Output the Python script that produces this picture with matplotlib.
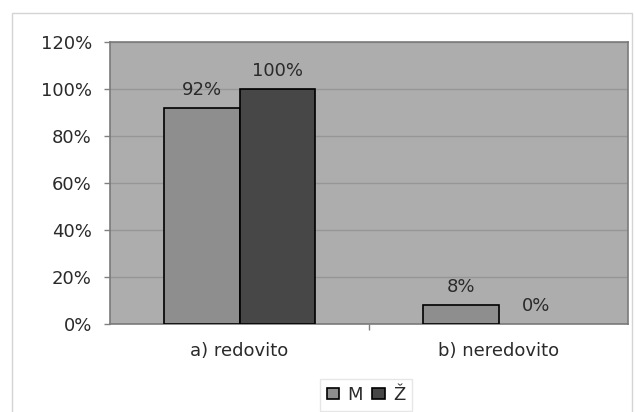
import numpy as np
import matplotlib.pyplot as plt
from matplotlib.patches import Rectangle
from matplotlib.ticker import FixedLocator

categories = ["a) redovito", "b) neredovito"]
series_names = ["M", "Ž"]
values_m = [92, 8]
values_z = [100, 0]
yticks = [0, 20, 40, 60, 80, 100, 120]

plt.rcParams["font.family"] = ["DejaVu Sans"]
FS = 13

fig = plt.figure(figsize=(6.35, 4.12), dpi=100)
fig.patch.set_facecolor("white")

# light outer frame around the whole chart
fig.patches.append(Rectangle((12 / 635, -0.05), 0.995 - 12 / 635, 1 - 13 / 412 + 0.05,
                             transform=fig.transFigure, fill=False,
                             edgecolor="#d4d4d4", linewidth=1.0))

ax = fig.add_axes([110 / 635, 1 - 324 / 412, 518 / 635, 282 / 412])
ax.set_facecolor("#adadad")

x = np.arange(len(categories))
w = 0.29
bars_m = ax.bar(x - w / 2, values_m, w, color="#8e8e8e", edgecolor="black",
                linewidth=1.2, label=series_names[0], zorder=3)
bars_z = ax.bar(x + w / 2, values_z, w, color="#474747", edgecolor="black",
                linewidth=1.2, label=series_names[1], zorder=3)

for bars, vals in ((bars_m, values_m), (bars_z, values_z)):
    for b, v in zip(bars, vals):
        if v == 0:
            # an empty bar leaves no outline on the axis
            b.set_linewidth(0)
        ax.annotate(f"{v}%", (b.get_x() + b.get_width() / 2, v),
                    xytext=(0, 13), textcoords="offset points",
                    ha="center", va="center", fontsize=FS, color="#2a2a2a")

ax.set_xlim(-0.5, 1.5)
ax.set_ylim(0, 120)
ax.set_yticks(yticks)
ax.set_yticklabels([f"{t}%" for t in yticks])
ax.set_xticks(x)
ax.set_xticklabels(categories)
ax.xaxis.set_minor_locator(FixedLocator([0.5]))
ax.tick_params(axis="y", length=4, width=1, color="#808080", pad=9,
               labelsize=FS, labelcolor="#2a2a2a")
ax.tick_params(axis="x", which="major", length=0, pad=13,
               labelsize=FS, labelcolor="#2a2a2a")
ax.tick_params(axis="x", which="minor", length=4, width=1, color="#808080")
ax.grid(axis="y", color="#969696", linewidth=1.0, zorder=0)
for s in ax.spines.values():
    s.set_color("#7a7a7a")
    s.set_linewidth(1.2)

leg = fig.legend(loc="center", bbox_to_anchor=(366 / 635, 1 - 395 / 412),
                 ncol=2, frameon=True, fontsize=FS, handlelength=0.7,
                 handleheight=0.6, handletextpad=0.45, columnspacing=0.5,
                 borderpad=0.4, fancybox=False)
leg.get_frame().set_edgecolor("#e0e0e0")
leg.get_frame().set_linewidth(1.0)
for t in leg.get_texts():
    t.set_color("#2a2a2a")

fig.savefig("out.png", dpi=100)
